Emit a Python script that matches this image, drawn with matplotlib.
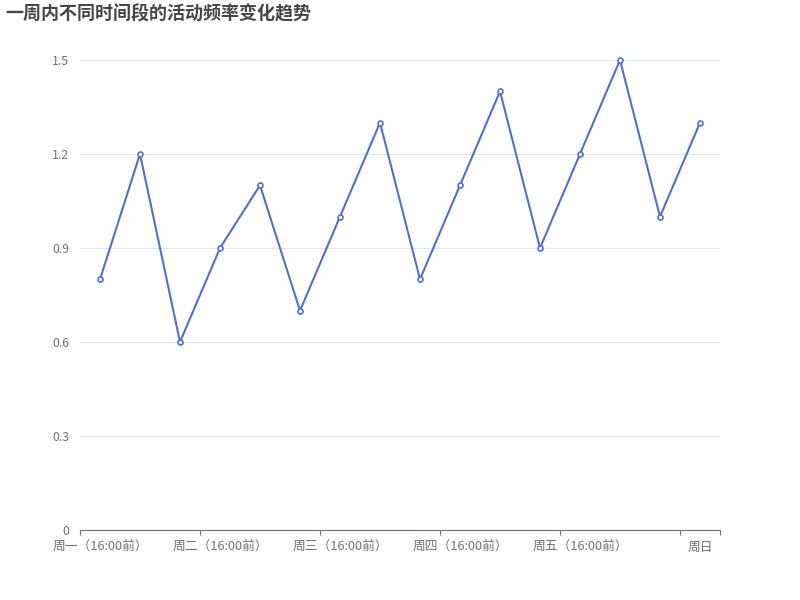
import matplotlib
matplotlib.use("Agg")
import matplotlib.pyplot as plt
import numpy as np

plt.rcParams['font.family'] = ['Noto Sans CJK SC', 'DejaVu Sans']

# data
categories = [
    "周一（16:00前）", "周一（16:00-20:00）", "周一（20:00后）",
    "周二（16:00前）", "周二（16:00-20:00）", "周二（20:00后）",
    "周三（16:00前）", "周三（16:00-20:00）", "周三（20:00后）",
    "周四（16:00前）", "周四（16:00-20:00）", "周四（20:00后）",
    "周五（16:00前）", "周五（16:00-20:00）", "周五（20:00后）",
    "周日",
]
frequency = [0.8, 1.2, 0.6, 0.9, 1.1, 0.7, 1.0, 1.3,
             0.8, 1.1, 1.4, 0.9, 1.2, 1.5, 1.0, 1.3]
y_ticks = [0, 0.3, 0.6, 0.9, 1.2, 1.5]
y_tick_labels = ["0", "0.3", "0.6", "0.9", "1.2", "1.5"]
label_step = 3

line_color = "#5470c6"
axis_color = "#6e7079"
grid_color = "#e0e6f1"

fig = plt.figure(figsize=(8, 6), dpi=100)
ax = fig.add_axes([0.1, 1 - 530 / 600, 0.8, 470 / 600])

x = np.arange(len(categories))
ax.plot(x, frequency, color=line_color, linewidth=1.5, marker='o',
        markersize=3.6, markerfacecolor='white', markeredgecolor=line_color,
        markeredgewidth=1.2, zorder=3, clip_on=False)

ax.set_xlim(-0.5, len(categories) - 0.5)
ax.set_ylim(0, 1.5)

# y axis
ax.set_yticks(y_ticks)
ax.set_yticklabels(y_tick_labels)
ax.tick_params(axis='y', length=0, pad=8, labelsize=8.8, labelcolor=axis_color)
for v in y_ticks[1:]:
    ax.axhline(v, color=grid_color, linewidth=0.8, zorder=1)

# x axis
shown = list(range(0, len(categories), label_step))
ax.set_xticks(shown)
ax.set_xticklabels([categories[i] for i in shown])
ax.set_xticks([i - 0.5 for i in shown] + [len(categories) - 0.5], minor=True)
ax.tick_params(axis='x', which='major', length=0, pad=8, labelsize=9.2,
               labelcolor=axis_color)
ax.tick_params(axis='x', which='minor', length=3.6, width=0.8, color=axis_color,
               direction='out')

for side in ['top', 'right', 'left']:
    ax.spines[side].set_visible(False)
ax.spines['bottom'].set_color(axis_color)
ax.spines['bottom'].set_linewidth(0.8)

fig.text(5 / 800, 1 - 14 / 600, "一周内不同时间段的活动频率变化趋势",
         fontsize=13, fontweight='bold', color='#464646',
         ha='left', va='center')

fig.savefig("out.png", dpi=100)
